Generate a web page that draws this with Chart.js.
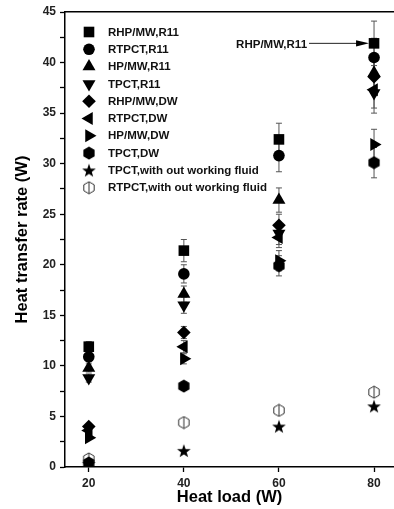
<!DOCTYPE html>
<html>
<head>
<meta charset="utf-8">
<script src="https://cdn.jsdelivr.net/npm/chart.js@4/dist/chart.umd.min.js"></script>
<style>
  html, body { margin: 0; padding: 0; background: #fff; overflow: hidden; }
  #wrap { width: 394px; height: 509px; }
</style>
</head>
<body>
<div id="wrap"><canvas id="chart" width="394" height="509"></canvas></div>
<script>
// heat load on the x axis
const heatLoads = [20, 40, 60, 80];

const seriesNames = [
  'RHP/MW,R11', 'RTPCT,R11', 'HP/MW,R11', 'TPCT,R11',
  'RHP/MW,DW', 'RTPCT,DW', 'HP/MW,DW', 'TPCT,DW',
  'TPCT,with out working fluid', 'RTPCT,with out working fluid'
];

// heat transfer rate (W) per series
const rhpMwR11 = [11.9, 21.4, 32.4, 41.9];
const rtpctR11 = [10.9, 19.1, 30.8, 40.5];
const hpMwR11 = [9.8, 17.1, 26.4, 39.0];
const tpctR11 = [8.8, 16.0, 23.1, 37.0];
const rhpMwDw = [4.0, 13.3, 23.9, 38.6];
const rtpctDw = [3.6, 11.9, 22.7, 37.3];
const hpMwDw = [2.9, 10.7, 20.4, 31.9];
const tpctDw = [0.4, 8.0, 19.9, 30.1];
const tpctNoFluid = [0.3, 1.6, 4.0, 6.0];
const rtpctNoFluid = [0.8, 4.4, 5.6, 7.4];

// error bar half-widths
const errRhpMwR11 = [0.5, 1.1, 1.6, 2.2];
const errRtpctR11 = [0.5, 0.9, 1.6, 1.9];
const errHpMwR11 = [0.4, 0.8, 1.2, 1.9];
const errTpctR11 = [0.4, 0.8, 1.1, 2.0];
const errRhpMwDw = [0.2, 0.6, 1.1, 1.8];
const errRtpctDw = [0.2, 0.6, 1.0, 1.8];
const errHpMwDw = [0.1, 0.5, 1.0, 1.5];
const errTpctDw = [0, 0.4, 1.0, 1.5];
const errNone = [0, 0, 0, 0];

const xTicks = [20, 40, 60, 80];
const yTickStep = 2.5;

// custom markers that Chart.js does not have
function makeMarker(w, h, draw) {
  const c = document.createElement('canvas');
  c.width = w; c.height = h;
  draw(c.getContext('2d'), w / 2, h / 2);
  return c;
}

function hexPath(g, cx, cy, r) {
  g.beginPath();
  for (let k = 0; k < 6; k++) {
    const a = (-90 + k * 60) * Math.PI / 180;
    const px = cx + r * Math.cos(a), py = cy + r * Math.sin(a);
    if (k === 0) g.moveTo(px, py); else g.lineTo(px, py);
  }
  g.closePath();
}

const hexFilled = makeMarker(14, 14, (g, cx, cy) => {
  hexPath(g, cx, cy, 6.5);
  g.fillStyle = '#000';
  g.fill();
});

const hexOpen = makeMarker(14, 14, (g, cx, cy) => {
  hexPath(g, cx, cy, 6);
  g.fillStyle = '#fff';
  g.fill();
  g.strokeStyle = '#333';
  g.lineWidth = 1;
  g.stroke();
  g.beginPath();
  g.moveTo(cx, cy - 6);
  g.lineTo(cx, cy + 6);
  g.stroke();
});

const starFilled = makeMarker(16, 16, (g, cx, cy) => {
  g.beginPath();
  for (let k = 0; k < 10; k++) {
    const r = k % 2 === 0 ? 7.2 : 2.9;
    const a = (-90 + k * 36) * Math.PI / 180;
    const px = cx + r * Math.cos(a), py = cy + 0.5 + r * Math.sin(a);
    if (k === 0) g.moveTo(px, py); else g.lineTo(px, py);
  }
  g.closePath();
  g.fillStyle = '#000';
  g.fill();
});

function toPoints(values) {
  return values.map((v, i) => ({ x: heatLoads[i], y: v }));
}

function series(label, values, errs, style, radius, rotation) {
  return {
    label: label,
    data: toPoints(values),
    errors: errs,
    pointStyle: style,
    pointRadius: radius,
    pointHoverRadius: radius,
    pointRotation: rotation || 0,
    backgroundColor: '#000',
    borderColor: '#000',
    borderWidth: 0
  };
}

const datasets = [
  series(seriesNames[0], rhpMwR11, errRhpMwR11, 'rect', 7.5),
  series(seriesNames[1], rtpctR11, errRtpctR11, 'circle', 5.8),
  series(seriesNames[2], hpMwR11, errHpMwR11, 'triangle', 7.5),
  series(seriesNames[3], tpctR11, errTpctR11, 'triangle', 7.5, 180),
  series(seriesNames[4], rhpMwDw, errRhpMwDw, 'rectRot', 6.8),
  series(seriesNames[5], rtpctDw, errRtpctDw, 'triangle', 7.5, -90),
  series(seriesNames[6], hpMwDw, errHpMwDw, 'triangle', 7.5, 90),
  series(seriesNames[7], tpctDw, errTpctDw, hexFilled, 7),
  series(seriesNames[8], tpctNoFluid, errNone, starFilled, 8),
  series(seriesNames[9], rtpctNoFluid, errNone, hexOpen, 7)
];

// vertical error bars, drawn under the markers
const errorBars = {
  id: 'errorBars',
  beforeDatasetsDraw(chart) {
    const { ctx, scales } = chart;
    ctx.save();
    ctx.strokeStyle = '#555';
    ctx.lineWidth = 1;
    chart.data.datasets.forEach(ds => {
      ds.data.forEach((p, i) => {
        const e = ds.errors[i];
        if (!e) return;
        const x = scales.x.getPixelForValue(p.x);
        const y1 = scales.y.getPixelForValue(p.y + e);
        const y2 = scales.y.getPixelForValue(p.y - e);
        ctx.beginPath();
        ctx.moveTo(x, y1); ctx.lineTo(x, y2);
        ctx.moveTo(x - 3, y1); ctx.lineTo(x + 3, y1);
        ctx.moveTo(x - 3, y2); ctx.lineTo(x + 3, y2);
        ctx.stroke();
      });
    });
    ctx.restore();
  }
};

// legend sits inside the plot area, top left
const insideLegend = {
  id: 'insideLegend',
  afterDatasetsDraw(chart) {
    const { ctx, chartArea } = chart;
    ctx.save();
    ctx.font = 'bold 11.5px "Liberation Sans", Arial, sans-serif';
    ctx.textBaseline = 'middle';
    chart.data.datasets.forEach((ds, i) => {
      const x = chartArea.left + 24;
      const y = chartArea.top + 20 + i * 17.3;
      ctx.fillStyle = '#000';
      ctx.strokeStyle = '#000';
      Chart.helpers.drawPoint(ctx, {
        pointStyle: ds.pointStyle,
        rotation: ds.pointRotation,
        radius: ds.pointRadius,
        borderWidth: 0
      }, x, y);
      ctx.fillStyle = '#111';
      ctx.fillText(ds.label, chartArea.left + 43, y + 0.5);
    });
    ctx.restore();
  }
};

// arrow label pointing at the RHP/MW,R11 point at 80 W
const arrowNote = {
  id: 'arrowNote',
  afterDatasetsDraw(chart) {
    const { ctx, scales } = chart;
    const px = scales.x.getPixelForValue(heatLoads[3]);
    const py = scales.y.getPixelForValue(rhpMwR11[3]);
    const tip = px - 5;
    ctx.save();
    ctx.strokeStyle = '#222';
    ctx.fillStyle = '#000';
    ctx.lineWidth = 1;
    ctx.beginPath();
    ctx.moveTo(tip - 60, py);
    ctx.lineTo(tip - 12, py);
    ctx.stroke();
    ctx.beginPath();
    ctx.moveTo(tip, py);
    ctx.lineTo(tip - 13, py - 3.2);
    ctx.lineTo(tip - 13, py + 3.2);
    ctx.closePath();
    ctx.fill();
    ctx.font = 'bold 11.5px "Liberation Sans", Arial, sans-serif';
    ctx.textAlign = 'right';
    ctx.textBaseline = 'middle';
    ctx.fillStyle = '#111';
    ctx.fillText(seriesNames[0], tip - 62, py + 1);
    ctx.restore();
  }
};

const tickFont = { family: '"Liberation Sans", Arial, sans-serif', size: 12, weight: 'bold' };
const titleFont = { family: '"Liberation Sans", Arial, sans-serif', size: 16.5, weight: 'bold' };

new Chart(document.getElementById('chart'), {
  type: 'scatter',
  data: { datasets: datasets },
  plugins: [errorBars, insideLegend, arrowNote],
  options: {
    responsive: false,
    animation: false,
    events: [],
    layout: { autoPadding: false, padding: { left: 0, right: 0, top: 0, bottom: 0 } },
    plugins: {
      legend: { display: false },
      tooltip: { enabled: false }
    },
    scales: {
      x: {
        type: 'linear',
        min: 15,
        max: 84.2,
        afterBuildTicks: s => { s.ticks = xTicks.map(v => ({ value: v })); },
        afterFit: s => { s.height = 42; s.paddingRight = 0; s.paddingLeft = 0; },
        grid: { drawOnChartArea: false, tickLength: 5, color: '#000', tickWidth: 1.3 },
        border: { color: '#000', width: 1.5 },
        ticks: { font: tickFont, color: '#222', padding: 4 },
        title: { display: true, text: 'Heat load (W)', font: titleFont, color: '#000', padding: { top: 0, bottom: 2 } }
      },
      x2: {
        type: 'linear',
        position: 'top',
        min: 15,
        max: 84.2,
        afterFit: s => { s.height = 12; s.paddingRight = 0; s.paddingLeft = 0; },
        grid: { display: false, drawTicks: false },
        border: { color: '#000', width: 1.5 },
        ticks: { display: false }
      },
      y: {
        min: 0,
        max: 45,
        afterFit: s => { s.width = 65; s.paddingTop = 0; s.paddingBottom = 0; },
        grid: { drawOnChartArea: false, tickLength: 5, color: '#000', tickWidth: 1.3 },
        border: { color: '#000', width: 1.5 },
        ticks: {
          stepSize: yTickStep,
          font: tickFont,
          color: '#222',
          padding: 4,
          callback: v => (v % 5 === 0 ? v : '')
        },
        title: { display: true, text: 'Heat transfer rate (W)', font: titleFont, color: '#000', padding: { top: 13, bottom: 0 } }
      }
    }
  }
});
</script>
</body>
</html>
